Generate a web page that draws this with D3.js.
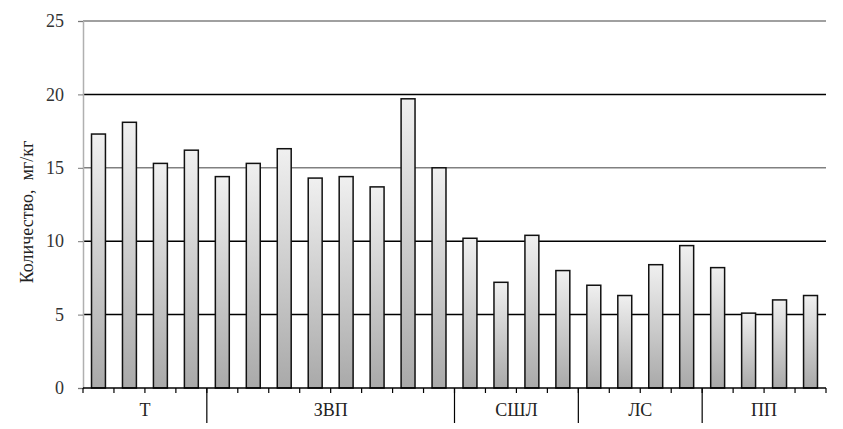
<!DOCTYPE html>
<html lang="ru">
<head>
<meta charset="UTF-8">
<title>Количество, мг/кг</title>
<script src="https://d3js.org/d3.v7.min.js"></script>
<style>
  body { margin: 0; background: #fff; }
  svg { display: block; font-family: "Liberation Serif", "DejaVu Serif", serif; }
</style>
</head>
<body>
<svg width="843" height="429"></svg>
<script>
// groups and how many bars each one has
const groups = ["Т", "ЗВП", "СШЛ", "ЛС", "ПП"];
const groupSizes = [4, 8, 4, 4, 4];
// bar values, mg/kg
const values = [
  17.3, 18.1, 15.3, 16.2,
  14.4, 15.3, 16.3, 14.3, 14.4, 13.7, 19.7, 15.0,
  10.2, 7.2, 10.4, 8.0,
  7.0, 6.3, 8.4, 9.7,
  8.2, 5.1, 6.0, 6.3
];
const yTicks = [0, 5, 10, 15, 20, 25];

const svg = d3.select("svg");
const margin = { top: 21, right: 17, bottom: 41, left: 83 };
const width = 843, height = 429;

const x = d3.scaleBand()
  .domain(d3.range(values.length))
  .range([margin.left, width - margin.right])
  .paddingInner(0.55)
  .paddingOuter(0.275);

const y = d3.scaleLinear()
  .domain([0, 25])
  .range([height - margin.bottom, margin.top]);

// vertical gradient for bars
const grad = svg.append("defs").append("linearGradient")
  .attr("id", "barGrad").attr("x1", 0).attr("y1", 0).attr("x2", 0).attr("y2", 1);
grad.append("stop").attr("offset", "0%").attr("stop-color", "#f0f0f0");
grad.append("stop").attr("offset", "100%").attr("stop-color", "#a9a9a9");

// grid lines
svg.append("g")
  .selectAll("line")
  .data(yTicks.filter(d => d > 0))
  .join("line")
  .attr("x1", margin.left)
  .attr("x2", width - margin.right)
  .attr("y1", d => y(d))
  .attr("y2", d => y(d))
  .attr("stroke", d => (d === 25 || d === 15) ? "#808080" : "#000")
  .attr("stroke-width", 1.5);

// y axis
const yAxis = svg.append("g")
  .attr("transform", `translate(${margin.left},0)`)
  .call(d3.axisLeft(y).tickValues(yTicks).tickSize(5).tickPadding(14));
yAxis.select(".domain").attr("stroke", "#b0b0b0").attr("stroke-width", 1.5);
yAxis.selectAll(".tick line").attr("stroke", "#777");
yAxis.selectAll("text").attr("font-size", 18).attr("fill", "#333")
  .attr("font-family", "Liberation Serif, serif");

// bars
svg.append("g")
  .selectAll("rect")
  .data(values)
  .join("rect")
  .attr("x", (d, i) => x(i))
  .attr("y", d => y(d))
  .attr("width", x.bandwidth())
  .attr("height", d => y(0) - y(d))
  .attr("fill", "url(#barGrad)")
  .attr("stroke", "#111")
  .attr("stroke-width", 1.5);

// x axis line
const y0 = y(0);
svg.append("line")
  .attr("x1", margin.left).attr("x2", width - margin.right)
  .attr("y1", y0).attr("y2", y0)
  .attr("stroke", "#000").attr("stroke-width", 1.5);

// minor ticks between bars
const step = x.step();
const bounds = d3.range(values.length + 1).map(i => margin.left + i * step);
svg.append("g")
  .selectAll("line")
  .data(bounds)
  .join("line")
  .attr("x1", d => d).attr("x2", d => d)
  .attr("y1", y0).attr("y2", y0 + 5)
  .attr("stroke", "#000").attr("stroke-width", 1.2);

// group separators and labels
const cum = [0];
groupSizes.forEach((n, i) => cum.push(cum[i] + n));
svg.append("g")
  .selectAll("line")
  .data(cum.slice(1, -1))
  .join("line")
  .attr("x1", d => margin.left + d * step)
  .attr("x2", d => margin.left + d * step)
  .attr("y1", y0).attr("y2", y0 + 35)
  .attr("stroke", "#000").attr("stroke-width", 1.2);

svg.append("g")
  .selectAll("text")
  .data(groups)
  .join("text")
  .attr("x", (d, i) => margin.left + (cum[i] + cum[i + 1]) / 2 * step)
  .attr("y", y0 + 28)
  .attr("text-anchor", "middle")
  .attr("font-size", 18)
  .attr("fill", "#222")
  .text(d => d);

// y title
svg.append("text")
  .attr("transform", "translate(33,212) rotate(-90)")
  .attr("text-anchor", "middle")
  .attr("font-size", 18)
  .attr("fill", "#222")
  .attr("xml:space", "preserve")
  .text("Количество,  мг/кг");
</script>
</body>
</html>
